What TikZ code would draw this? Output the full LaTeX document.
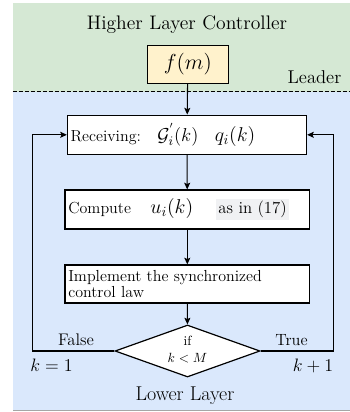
\RequirePackage{fix-cm}
\documentclass[tikz,border=0pt]{standalone}
\usepackage{fontspec}
\usepackage{amsmath}
\usetikzlibrary{shapes.geometric,arrows.meta}
\definecolor{upperbg}{HTML}{D5E8D4}
\definecolor{lowerbg}{HTML}{DAE8FC}
\definecolor{leaderfill}{HTML}{FFF2CC}
\definecolor{notefill}{HTML}{F0F1F3}
\newcommand{\bigmath}[2]{{\fontsize{#1}{#1}\selectfont$#2$}}
\begin{document}
\begin{tikzpicture}[x=0.75pt,y=-0.75pt,
  font=\fontsize{12}{14}\selectfont,
  box/.style={draw, line width=0.9pt, fill=white, inner xsep=2.4pt, inner ysep=0pt,
    align=left, anchor=center},
  flow/.style={-{Stealth[length=5pt,width=4.5pt,inset=1pt]}, line width=0.8pt},
  label/.style={inner sep=0pt, anchor=base}]
  \useasboundingbox (0,0) rectangle (350,412);

  % layer backgrounds
  \fill[upperbg] (13,3) rectangle (350,91.5);
  \fill[lowerbg] (13,91.5) rectangle (350,410);
  \fill[black!35] (13,410) rectangle (350,411.3);
  \draw[line width=1pt, dash pattern=on 3pt off 1.5pt] (13,91.5) -- (350,91.5);

  \node[label, font=\fontsize{14.7}{16}\selectfont] (hlc) at (187,29.5) {Higher Layer Controller};
  \node[label, font=\fontsize{13.9}{16}\selectfont] (ldr) at (314.5,83) {Leader};
  \node[label, font=\fontsize{15}{16}\selectfont] (llr) at (185,400) {Lower Layer};

  % leader block
  \node[draw, line width=0.9pt, fill=leaderfill, minimum width=60.75pt, minimum height=28.5pt,
    inner sep=0pt, font=\fontsize{16.3}{18}\selectfont] (fm) at (187.8,64.2) {$f(m)$};

  % lower layer steps
  \node[box, text width=174.5pt, minimum height=29.5pt] (recv) at (187,134.8)
    {Receiving:\hspace{12.4pt}\bigmath{14}{\mathcal{G}_i^{'}(k)}\hspace{12.4pt}\bigmath{15}{q_i(k)}};
  \node[box, text width=178.5pt, minimum height=29.25pt] (comp) at (187.3,209.5)
    {Compute\hspace{14.6pt}\bigmath{15}{u_i(k)}\hspace{17.5pt}{\fontsize{12.6}{14}\selectfont\setlength{\fboxsep}{1.5pt}\colorbox{notefill}{as in (17)}}};
  \node[box, text width=178.5pt, minimum height=28.5pt, font=\fontsize{12}{12.4}\selectfont] (impl) at (187.3,284)
    {Implement the synchronized\\control law};

  % decision
  \node[diamond, draw, line width=0.9pt, fill=white, aspect=2.8, inner sep=0pt,
    minimum width=108.75pt, minimum height=39pt] (dec) at (187.5,351) {};
  \node[label, font=\fontsize{10}{12}\selectfont] (decif) at (187.5,345) {if};
  \node[label, font=\fontsize{10}{12}\selectfont] (deccond) at (187.5,362) {$k<M$};

  % connectors
  \draw[flow] (fm) -- (recv);
  \draw[flow] (recv) -- (comp);
  \draw[flow] (comp) -- (impl);
  \draw[flow] (impl) -- (dec);
  \draw[flow] (dec.west) -- ++(-82.3,0) |- (recv.west);
  \draw[flow] (dec.east) -- ++(72.7,0) |- (recv.east);

  % branch labels
  \node[label, font=\fontsize{12.6}{14}\selectfont] (lfalse) at (76,345) {False};
  \node[label, font=\fontsize{12.2}{14}\selectfont] (ltrue) at (291.5,345) {True};
  \node[label, font=\fontsize{13.5}{14}\selectfont] (lreset) at (51.5,371) {$k=1$};
  \node[label, font=\fontsize{13.5}{14}\selectfont] (lnext) at (313,371) {$k+1$};
\end{tikzpicture}
\end{document}
